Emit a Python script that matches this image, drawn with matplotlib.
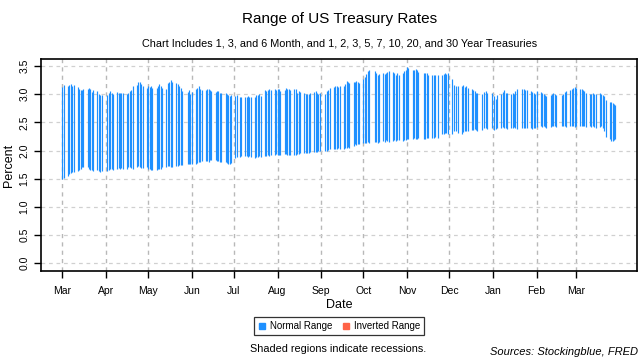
import numpy as np
import pandas as pd
import matplotlib
matplotlib.use("Agg")
import matplotlib.pyplot as plt
from matplotlib.lines import Line2D

plt.rcParams["font.family"] = ["Liberation Sans", "DejaVu Sans"]

# bond market holidays (no quotes on these days)
holidays = ["2018-03-30", "2018-05-28", "2018-07-04", "2018-09-03", "2018-10-08",
            "2018-11-12", "2018-11-22", "2018-12-05", "2018-12-25", "2019-01-01",
            "2019-01-21", "2019-02-18"]
dates = pd.bdate_range("2018-03-01", "2019-03-29")
dates = dates[~dates.isin(pd.to_datetime(holidays))]

# highest rate across the curve, one value per trading day
range_high = [
    # Mar 2018
    3.13, 3.16, 3.15, 3.17, 3.18, 3.14, 3.16, 3.13, 3.10, 3.07, 3.08, 3.09, 3.10, 3.12, 3.10, 3.04, 3.07, 3.05, 3.01, 2.99, 2.98,
    # Apr
    2.98, 3.03, 3.05, 3.03, 3.01, 3.04, 3.02, 3.03, 3.02, 3.02, 3.01, 3.03, 3.05, 3.08, 3.15, 3.17, 3.22, 3.21, 3.18, 3.14, 3.12,
    # May
    3.14, 3.13, 3.15, 3.12, 3.11, 3.14, 3.18, 3.15, 3.12, 3.10, 3.20, 3.22, 3.25, 3.22, 3.20, 3.19, 3.14, 3.12, 3.06, 3.04, 3.07, 3.01,
    # Jun
    3.04, 3.10, 3.11, 3.14, 3.10, 3.08, 3.08, 3.10, 3.10, 3.07, 3.05, 3.04, 3.06, 3.05, 3.03, 3.03, 3.02, 3.00, 2.98, 2.97, 2.99,
    # Jul
    2.97, 2.98, 2.96, 2.95, 2.96, 2.96, 2.97, 2.96, 2.95, 2.96, 2.98, 2.98, 3.00, 2.97, 3.08, 3.06, 3.08, 3.09, 3.08, 3.10, 3.08,
    # Aug
    3.10, 3.09, 3.06, 3.08, 3.12, 3.09, 3.10, 3.07, 3.09, 3.09, 3.02, 3.05, 3.04, 3.03, 3.00, 3.00, 3.01, 3.02, 3.04, 3.06, 3.02, 3.00, 3.02,
    # Sep
    3.00, 3.05, 3.08, 3.12, 3.13, 3.14, 3.15, 3.13, 3.15, 3.14, 3.19, 3.23, 3.21, 3.20, 3.21, 3.22, 3.24, 3.22, 3.20,
    # Oct
    3.27, 3.30, 3.36, 3.41, 3.43, 3.41, 3.38, 3.35, 3.36, 3.37, 3.36, 3.38, 3.39, 3.41, 3.40, 3.38, 3.35, 3.37, 3.34, 3.38, 3.41, 3.44,
    # Nov
    3.48, 3.46, 3.44, 3.44, 3.45, 3.43, 3.40, 3.38, 3.37, 3.38, 3.35, 3.35, 3.34, 3.35, 3.34, 3.35, 3.36, 3.37, 3.36, 3.38,
    # Dec
    3.27, 3.16, 3.15, 3.14, 3.14, 3.16, 3.13, 3.14, 3.12, 3.10, 3.07, 3.05, 3.03, 3.02, 3.01, 3.04, 3.05, 3.03, 3.02,
    # Jan 2019
    2.97, 2.92, 2.98, 3.00, 3.04, 3.07, 3.03, 3.02, 3.01, 3.02, 3.00, 3.06, 3.09, 3.09, 3.10, 3.07, 3.08, 3.05, 3.04, 3.03, 3.00,
    # Feb
    3.05, 3.04, 3.02, 3.00, 2.99, 2.97, 2.99, 3.00, 3.02, 3.00, 2.99, 2.98, 3.00, 3.04, 3.06, 3.08, 3.10, 3.12, 3.13,
    # Mar 2019
    3.12, 3.09, 3.10, 3.07, 3.05, 3.03, 3.01, 3.00, 3.02, 3.00, 3.01, 3.02, 3.01, 2.99, 2.97, 2.89, 2.87, 2.86, 2.84, 2.82, 2.81,
]

# lowest rate across the curve, one value per trading day
range_low = [
    # Mar 2018
    1.50, 1.52, 1.55, 1.58, 1.60, 1.62, 1.62, 1.63, 1.65, 1.68, 1.70, 1.70, 1.71, 1.67, 1.66, 1.65, 1.64, 1.65, 1.63, 1.62, 1.63,
    # Apr
    1.64, 1.66, 1.67, 1.68, 1.66, 1.68, 1.69, 1.68, 1.69, 1.67, 1.68, 1.70, 1.70, 1.69, 1.68, 1.70, 1.72, 1.71, 1.69, 1.69, 1.70,
    # May
    1.68, 1.68, 1.66, 1.65, 1.66, 1.67, 1.68, 1.68, 1.70, 1.71, 1.72, 1.72, 1.70, 1.71, 1.72, 1.73, 1.74, 1.75, 1.75, 1.76, 1.76, 1.77,
    # Jun
    1.77, 1.77, 1.78, 1.80, 1.80, 1.81, 1.82, 1.82, 1.80, 1.83, 1.84, 1.83, 1.82, 1.81, 1.80, 1.80, 1.79, 1.78, 1.77, 1.76, 1.78,
    # Jul
    1.86, 1.88, 1.89, 1.90, 1.90, 1.91, 1.89, 1.90, 1.88, 1.87, 1.88, 1.89, 1.90, 1.89, 1.90, 1.91, 1.92, 1.91, 1.92, 1.93, 1.94,
    # Aug
    1.93, 1.92, 1.93, 1.94, 1.94, 1.92, 1.93, 1.92, 1.93, 1.93, 1.94, 1.94, 1.95, 1.95, 1.96, 1.96, 1.95, 1.97, 1.98, 1.98, 1.97, 1.99, 2.00,
    # Sep
    1.99, 2.00, 2.01, 2.02, 2.02, 2.03, 2.02, 2.04, 2.03, 2.03, 2.04, 2.05, 2.06, 2.04, 2.09, 2.12, 2.10, 2.11, 2.12,
    # Oct
    2.13, 2.13, 2.14, 2.15, 2.14, 2.16, 2.15, 2.14, 2.16, 2.17, 2.16, 2.18, 2.17, 2.16, 2.17, 2.18, 2.17, 2.19, 2.18, 2.17, 2.18, 2.19,
    # Nov
    2.20, 2.21, 2.21, 2.22, 2.20, 2.21, 2.22, 2.20, 2.21, 2.22, 2.23, 2.22, 2.23, 2.24, 2.22, 2.29, 2.30, 2.31, 2.32, 2.30,
    # Dec
    2.30, 2.35, 2.34, 2.31, 2.29, 2.33, 2.35, 2.35, 2.34, 2.37, 2.36, 2.38, 2.36, 2.35, 2.37, 2.40, 2.40, 2.38, 2.40,
    # Jan 2019
    2.36, 2.38, 2.41, 2.41, 2.42, 2.40, 2.41, 2.39, 2.40, 2.41, 2.42, 2.40, 2.39, 2.40, 2.41, 2.40, 2.41, 2.40, 2.39, 2.40, 2.41,
    # Feb
    2.42, 2.43, 2.42, 2.43, 2.42, 2.41, 2.42, 2.43, 2.44, 2.43, 2.42, 2.43, 2.44, 2.43, 2.42, 2.44, 2.44, 2.43, 2.42,
    # Mar 2019
    2.43, 2.44, 2.43, 2.44, 2.43, 2.42, 2.43, 2.42, 2.43, 2.42, 2.41, 2.42, 2.43, 2.40, 2.35, 2.24, 2.20, 2.17, 2.17, 2.19, 2.21,
]

month_ticks = pd.date_range("2018-03-01", "2019-03-01", freq="MS")
month_labels = ["Mar", "Apr", "May", "Jun", "Jul", "Aug", "Sep", "Oct",
                "Nov", "Dec", "Jan", "Feb", "Mar"]

normal_color = "#1E90FF"
inverted_color = "#FF6347"

low = np.array(range_low)
high = np.array(range_high)

fig = plt.figure(figsize=(6.4, 3.6), dpi=100)
ax = fig.add_axes([0.0636, 0.247, 0.932, 0.588])

ax.vlines(dates, low, high, colors=normal_color, linewidth=0.85)

ax.set_xlim(pd.Timestamp("2018-02-13 16:00"), pd.Timestamp("2019-04-13 12:00"))
ax.set_ylim(-0.14, 3.62)
yticks = np.arange(0, 3.51, 0.5)
ax.set_yticks(yticks)
ax.set_yticklabels([f"{v:.1f}" for v in yticks], rotation=90, va="center", fontsize=7.5)
ax.set_xticks(month_ticks)
ax.set_xticklabels(month_labels, fontsize=7.5)
ax.tick_params(axis="both", direction="out", length=5, width=1, color="black", pad=3)
ax.tick_params(axis="x", pad=6)

ax.xaxis.grid(True, color="#b8b8b8", linestyle=(0, (3, 3)), linewidth=1.0)
ax.yaxis.grid(True, color="#d0d0d0", linestyle=(0, (3, 3)), linewidth=0.9)
ax.set_axisbelow(True)
for s in ax.spines.values():
    s.set_linewidth(1.2)

ax.set_xlabel("Date", fontsize=9, labelpad=2)
ax.set_ylabel("Percent", fontsize=9, labelpad=3)

fig.text(0.53, 0.948, "Range of US Treasury Rates", ha="center", va="center", fontsize=11)
fig.text(0.53, 0.878, "Chart Includes 1, 3, and 6 Month, and 1, 2, 3, 5, 7, 10, 20, and 30 Year Treasuries",
         ha="center", va="center", fontsize=7.8)

handles = [Line2D([], [], marker="s", color=normal_color, linestyle="none", markersize=4.5),
           Line2D([], [], marker="s", color=inverted_color, linestyle="none", markersize=4.5)]
leg = fig.legend(handles, ["Normal Range", "Inverted Range"], loc="center",
                 bbox_to_anchor=(0.53, 0.094), ncol=2, fontsize=7, frameon=True,
                 fancybox=False, edgecolor="black", handlelength=0.8, handletextpad=0.4,
                 columnspacing=1.0, borderpad=0.4)
leg.get_frame().set_linewidth(0.9)

fig.text(0.528, 0.03, "Shaded regions indicate recessions.", ha="center", va="center", fontsize=7.8)
fig.text(0.997, 0.022, "Sources: Stockingblue, FRED", ha="right", va="center",
         fontsize=8, style="italic")

fig.savefig("out.png", dpi=100)
